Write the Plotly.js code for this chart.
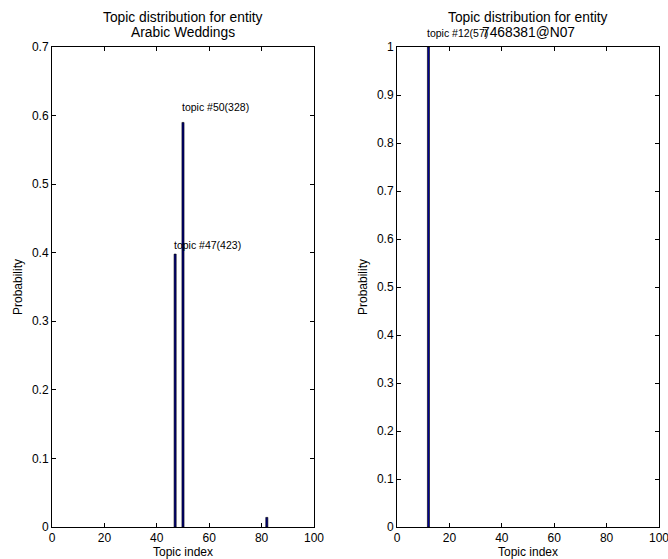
<!DOCTYPE html>
<html>
<head>
<meta charset="utf-8">
<script src="https://cdn.plot.ly/plotly-3.0.1.min.js"></script>
<style>html,body{margin:0;padding:0;background:#fff;}#chart{width:668px;height:559px;}</style>
</head>
<body>
<div id="chart"></div>
<script>
// Left panel: entity "Arabic Weddings"
const leftTopics = [47, 50, 82];
const leftProbs = [0.398, 0.59, 0.014];
const leftLabels = ["topic #47(423)", "topic #50(328)", ""];
const leftTitleLines = ["Topic distribution for entity", "Arabic Weddings"];

// Right panel: entity "7468381@N07"
const rightTopics = [12];
const rightProbs = [1.0];
const rightLabels = ["topic #12(57)"];
const rightTitleLines = ["Topic distribution for entity", "7468381@N07"];

const xTicks = [0, 20, 40, 60, 80, 100];
const xTickText = ["0", "20", "40", "60", "80", "100"];
const labelShift = {left: [9, 15, 0], right: [14]};

const FONT = "Liberation Sans, Arial, sans-serif";
const barStyle = {color: "#00007a", line: {color: "#000000", width: 0.6}};

const traces = [
  {type: "bar", x: leftTopics, y: leftProbs, width: 0.8, marker: barStyle, xaxis: "x", yaxis: "y", hoverinfo: "x+y"},
  {type: "bar", x: rightTopics, y: rightProbs, width: 0.8, marker: {color: "#000090", line: {color: "#000000", width: 0.6}}, xaxis: "x2", yaxis: "y2", hoverinfo: "x+y"}
];

function axisBase(extra) {
  return Object.assign({
    showline: true, linecolor: "#000", linewidth: 1, mirror: "ticks",
    ticks: "inside", ticklen: 4, tickcolor: "#000", tickwidth: 1,
    showgrid: false, zeroline: false, ticklabeloverflow: "allow",
    tickfont: {family: FONT, size: 12, color: "#000"}
  }, extra);
}

const annotations = [];
leftTopics.forEach((t, i) => {
  if (leftLabels[i]) annotations.push({
    x: t, y: leftProbs[i], xref: "x", yref: "y", text: leftLabels[i], showarrow: false,
    xanchor: "left", yanchor: "middle", xshift: -3, yshift: labelShift.left[i],
    font: {family: FONT, size: 10.5, color: "#000"}
  });
});
rightTopics.forEach((t, i) => {
  annotations.push({
    x: t, y: rightProbs[i], xref: "x2", yref: "y2", text: rightLabels[i], showarrow: false,
    xanchor: "left", yanchor: "middle", xshift: -3, yshift: labelShift.right[i],
    font: {family: FONT, size: 10.5, color: "#000"}
  });
});
[["x domain", leftTitleLines], ["x2 domain", rightTitleLines]].forEach(([xr, lines]) => {
  lines.forEach((txt, j) => {
    annotations.push({
      x: 0.5, y: 1, xref: xr, yref: "paper", text: txt, showarrow: false,
      xanchor: "center", yanchor: "middle", yshift: 30 - 15 * j,
      font: {family: FONT, size: 13.8, color: "#000"}
    });
  });
});

const layout = {
  width: 668, height: 559,
  margin: {l: 52, r: 9, t: 47, b: 32},
  paper_bgcolor: "#fff", plot_bgcolor: "#fff",
  showlegend: false,
  font: {family: FONT, size: 12, color: "#000"},
  xaxis: axisBase({domain: [0, 0.4316], range: [0, 100], tickvals: xTicks, ticktext: xTickText,
    title: {text: "Topic index", font: {family: FONT, size: 12}, standoff: 2}}),
  yaxis: axisBase({range: [0, 0.7], dtick: 0.1, tick0: 0,
    title: {text: "Probability", font: {family: FONT, size: 12}, standoff: 6}}),
  xaxis2: axisBase({domain: [0.5684, 1], range: [0, 100], tickvals: xTicks, ticktext: xTickText, anchor: "y2",
    title: {text: "Topic index", font: {family: FONT, size: 12}, standoff: 2}}),
  yaxis2: axisBase({range: [0, 1], dtick: 0.1, tick0: 0, anchor: "x2",
    title: {text: "Probability", font: {family: FONT, size: 12}, standoff: 6}}),
  annotations: annotations
};

Plotly.newPlot("chart", traces, layout, {staticPlot: true, displayModeBar: false});
</script>
</body>
</html>
